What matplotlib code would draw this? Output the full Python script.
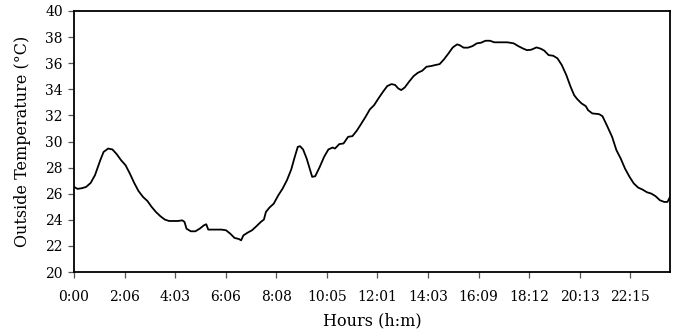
import matplotlib
matplotlib.use("Agg")
import matplotlib.pyplot as plt

# Outside temperature over one day (time in hours from midnight)
hours = [
    0.00, 0.14, 0.31, 0.48, 0.66, 0.83, 1.04, 1.17, 1.35, 1.52, 1.69, 1.86,
    2.04, 2.21, 2.38, 2.55, 2.73, 2.90, 3.07, 3.24, 3.42, 3.59, 3.76, 3.93,
    4.11, 4.28, 4.37, 4.45, 4.62, 4.80, 4.97, 5.14, 5.23, 5.31, 5.49, 5.66,
    5.83, 6.01, 6.18, 6.35, 6.52, 6.61, 6.70, 6.87, 7.04, 7.21, 7.39, 7.51,
    7.59, 7.73, 7.90, 8.08, 8.25, 8.42, 8.59, 8.73, 8.85, 8.94, 9.06, 9.20,
    9.32, 9.42, 9.54, 9.72, 9.89, 10.06, 10.23, 10.32, 10.49, 10.66, 10.84,
    11.01, 11.18, 11.35, 11.53, 11.70, 11.87, 12.04, 12.22, 12.39, 12.56,
    12.70, 12.82, 12.94, 13.08, 13.25, 13.43, 13.60, 13.77, 13.94, 14.12,
    14.29, 14.46, 14.63, 14.81, 14.98, 15.15, 15.24, 15.41, 15.58, 15.76,
    15.93, 16.10, 16.27, 16.45, 16.62, 16.88, 17.14, 17.39, 17.57, 17.74,
    17.91, 18.08, 18.29, 18.46, 18.60, 18.77, 18.95, 19.12, 19.29, 19.47,
    19.64, 19.78, 19.90, 20.07, 20.24, 20.33, 20.50, 20.76, 20.90, 21.07,
    21.28, 21.45, 21.62, 21.79, 21.97, 22.14, 22.31, 22.48, 22.66, 22.83,
    23.00, 23.17, 23.34, 23.47, 23.57,
]
temperature = [
    26.52, 26.37, 26.42, 26.52, 26.83, 27.42, 28.57, 29.20, 29.46, 29.39, 29.03, 28.57,
    28.18, 27.54, 26.83, 26.21, 25.75, 25.45, 24.99, 24.60, 24.27, 24.02, 23.91, 23.91,
    23.91, 23.96, 23.84, 23.32, 23.12, 23.12, 23.32, 23.58, 23.66, 23.25, 23.25, 23.25,
    23.25, 23.20, 22.94, 22.61, 22.53, 22.43, 22.81, 23.02, 23.20, 23.50, 23.84, 24.02,
    24.60, 24.94, 25.24, 25.88, 26.39, 27.03, 27.85, 28.82, 29.59, 29.64, 29.39, 28.70,
    27.93, 27.29, 27.34, 28.06, 28.82, 29.39, 29.54, 29.46, 29.80, 29.85, 30.36,
    30.41, 30.82, 31.33, 31.89, 32.46, 32.79, 33.30, 33.81, 34.25, 34.40,
    34.33, 34.07, 33.94, 34.14, 34.58, 35.01, 35.27, 35.42, 35.73, 35.78,
    35.86, 35.93, 36.29, 36.75, 37.21, 37.44, 37.39, 37.19, 37.19, 37.31,
    37.52, 37.57, 37.72, 37.72, 37.60, 37.60, 37.60, 37.52, 37.31, 37.14,
    37.00, 37.03, 37.21, 37.11, 36.96, 36.62, 36.57, 36.37, 35.86, 35.09,
    34.19, 33.55, 33.25, 32.92, 32.71, 32.40, 32.15, 32.10, 31.94, 31.25,
    30.36, 29.34, 28.70, 27.93, 27.29, 26.78, 26.47, 26.32, 26.11, 26.01,
    25.81, 25.50, 25.37, 25.37, 25.75,
]

tick_positions = [0, 2, 4, 6, 8, 10, 12, 14, 16, 18, 20, 22]
tick_labels = ["0:00", "2:06", "4:03", "6:06", "8:08", "10:05", "12:01",
               "14:03", "16:09", "18:12", "20:13", "22:15"]
y_ticks = list(range(20, 41, 2))

plt.rcParams["font.family"] = ["DejaVu Serif"]

fig = plt.figure(figsize=(6.82, 3.31), dpi=100)
ax = fig.add_axes([0.1085, 0.1782, 0.8739, 0.7886])

ax.plot(hours, temperature, color="black", linewidth=1.3)

ax.set_xlim(0, 23.57)
ax.set_ylim(20, 40)
ax.set_xticks(tick_positions)
ax.set_xticklabels(tick_labels)
ax.set_yticks(y_ticks)

ax.tick_params(axis="both", direction="out", length=4, width=0.9,
               color="#555555", labelsize=10)
ax.tick_params(axis="x", pad=9)
ax.tick_params(axis="y", pad=4)
for side in ("left", "right", "top", "bottom"):
    ax.spines[side].set_linewidth(1.3)
    ax.spines[side].set_color("black")

ax.set_xlabel("Hours (h:m)", fontsize=11.5, labelpad=6)
ax.set_ylabel("Outside Temperature (\u00b0C)", fontsize=11.5, labelpad=10)

fig.savefig("out.png", dpi=100)
